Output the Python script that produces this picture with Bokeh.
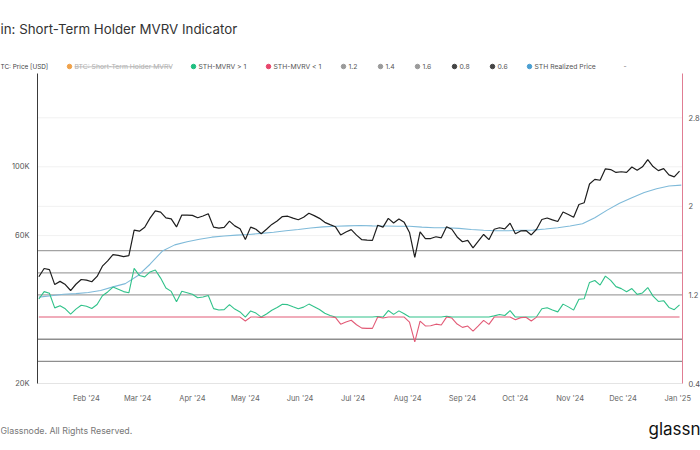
import pandas as pd
from bokeh.plotting import figure
from bokeh.models import (Range1d, LinearAxis, LinearScale, FixedTicker,
                          DatetimeTickFormatter)
from bokeh.core.properties import value
from bokeh.embed import file_html
from bokeh.resources import INLINE

# ---------------- data ----------------
price_start = "2024-01-05"   # every 3 days
btc_price = [
    44.2, 47.0, 46.6, 41.7, 42.7, 41.7, 39.9, 41.8, 43.3, 43.1,
    42.6, 44.3, 47.8, 49.7, 52.1, 51.8, 51.3, 51.7, 62.5, 62.0,
    63.8, 68.3, 72.1, 71.4, 68.4, 67.9, 64.0, 69.9, 69.9, 69.7,
    68.5, 69.4, 70.6, 63.9, 63.4, 63.8, 66.8, 64.5, 63.1, 58.3,
    63.9, 62.9, 60.8, 62.9, 65.2, 66.9, 69.1, 69.3, 68.3, 67.5,
    68.8, 70.8, 69.6, 68.2, 66.2, 65.1, 64.1, 60.3, 61.6, 62.7,
    60.2, 58.2, 58.0, 57.9, 64.8, 63.9, 68.2, 65.9, 67.9, 66.2,
    61.4, 51.0, 61.7, 58.7, 58.7, 59.5, 59.0, 64.1, 62.9, 59.4,
    57.3, 57.9, 54.8, 57.6, 60.5, 58.2, 62.9, 63.6, 63.1, 65.8,
    60.8, 62.1, 62.3, 60.3, 62.9, 67.6, 68.4, 67.4, 66.6, 71.5,
    70.2, 68.8, 75.6, 76.6, 88.0, 91.1, 90.5, 98.5, 98.0, 95.9,
    96.4, 96.0, 99.9, 97.4, 100.0, 105.5, 100.2, 97.2, 98.7, 94.2,
    92.8, 96.9,
]  # thousands of USD

sth_mvrv = [
    1.163, 1.230, 1.215, 1.083, 1.103, 1.075, 1.026, 1.072, 1.107, 1.098,
    1.078, 1.113, 1.192, 1.227, 1.271, 1.251, 1.230, 1.219, 1.440, 1.375,
    1.363, 1.408, 1.425, 1.352, 1.262, 1.232, 1.139, 1.233, 1.220, 1.206,
    1.175, 1.182, 1.195, 1.076, 1.064, 1.067, 1.113, 1.072, 1.046, 0.965,
    1.055, 1.036, 0.997, 1.028, 1.062, 1.086, 1.116, 1.112, 1.093, 1.075,
    1.090, 1.117, 1.094, 1.069, 1.034, 1.014, 0.997, 0.936, 0.955, 0.971,
    0.931, 0.900, 0.898, 0.898, 1.005, 0.992, 1.059, 1.024, 1.056, 1.030,
    0.955, 0.775, 0.964, 0.920, 0.922, 0.936, 0.928, 1.008, 0.991, 0.937,
    0.907, 0.919, 0.873, 0.920, 0.970, 0.934, 1.011, 1.023, 1.014, 1.058,
    0.976, 0.995, 0.998, 0.965, 1.003, 1.075, 1.084, 1.064, 1.047, 1.117,
    1.092, 1.063, 1.161, 1.166, 1.313, 1.330, 1.289, 1.370, 1.332, 1.275,
    1.257, 1.229, 1.258, 1.205, 1.218, 1.267, 1.189, 1.141, 1.148, 1.087,
    1.067, 1.111,
]

realized_start = "2024-01-05"   # weekly
sth_realized = [
    38.0, 38.4, 38.8, 39.0, 39.3, 39.9, 41.0, 42.0, 44.5, 48.5,
    53.5, 56.0, 57.3, 58.4, 59.3, 59.8, 60.2, 60.5, 61.0, 61.5,
    62.2, 62.8, 63.5, 64.0, 64.3, 64.5, 64.7, 64.5, 64.4, 64.3,
    64.3, 63.9, 63.6, 63.6, 63.3, 62.8, 62.4, 62.2, 62.2, 62.4,
    62.5, 63.0, 63.6, 64.4, 65.5, 68.5, 72.5, 76.3, 79.5, 82.6,
    85.0, 86.7, 87.3,
]  # thousands of USD

month_ticks = ["2024-02-01", "2024-03-01", "2024-04-01", "2024-05-01",
               "2024-06-01", "2024-07-01", "2024-08-01", "2024-09-01",
               "2024-10-01", "2024-11-01", "2024-12-01", "2025-01-01"]
left_ticks = [20000, 60000, 100000]
left_labels = ["20K", "60K", "100K"]
right_ticks = [0.4, 1.2, 2.0, 2.8]
right_labels = ["0.4", "1.2", "2", "2.8"]
left_grid = [60000, 100000]
right_grid = [2.0, 2.8]
levels_upper = [1.2, 1.4, 1.6]
levels_lower = [0.8, 0.6]

legend_labels = ["BTC: Short-Term Holder MVRV", "STH-MVRV > 1", "STH-MVRV < 1",
                 "1.2", "1.4", "1.6", "0.8", "0.6", "STH Realized Price"]
legend_colors = ["#f0a24a", "#1fbf80", "#e8456b", "#9a9a9a", "#9a9a9a", "#9a9a9a",
                 "#444444", "#444444", "#4a9fd2"]

# ---------------- derived tables ----------------
EPOCH = pd.Timestamp("1970-01-01")
def ms(ts):
    return (pd.Timestamp(ts) - EPOCH).total_seconds() * 1000.0

price_dates = pd.date_range(price_start, periods=len(btc_price), freq="3D")
realized_dates = pd.date_range(realized_start, periods=len(sth_realized), freq="7D")
price_usd = [v * 1000 for v in btc_price]
realized_usd = [v * 1000 for v in sth_realized]
mvrv_above = [max(v, 1.0) for v in sth_mvrv]
mvrv_below = [min(v, 1.0) for v in sth_mvrv]

# ---------------- layout geometry (canvas pixels) ----------------
W, H = 700, 450
PL, PR, PT, PB = 37, 682, 73, 383   # plot area
x_start = ms("2024-01-04 05:45")
x_end = ms("2025-01-03 16:20")
Y_LO, Y_HI = 20000.0, 200000.0
M_LO, M_HI = 0.4, 3.2

mpp = (x_end - x_start) / (PR - PL)
dec_pp = 1.0 / (PB - PT)          # decades per pixel (log axis)
kpp = (M_HI - M_LO) / (PB - PT)   # mvrv per pixel

x_range = Range1d(x_start - PL * mpp, x_end + (W - PR) * mpp)
y_range = Range1d(Y_LO * 10 ** (-(H - PB) * dec_pp), Y_HI * 10 ** (PT * dec_pp))
m_range = Range1d(M_LO - (H - PB) * kpp, M_HI + PT * kpp)

def xpx(px):
    return x_start + (px - PL) * mpp
def ypx(py):
    return M_LO + (PB - py) * kpp

FONT = "Inter"
AX_FS = "7.5px"

p = figure(width=W, height=H, x_axis_type="datetime", y_axis_type="log",
           x_range=x_range, y_range=y_range,
           output_backend="svg", toolbar_location=None, min_border=0,
           outline_line_color=None, background_fill_color="white",
           border_fill_color="white")
p.extra_y_ranges = {"mvrv": m_range}
p.extra_y_scales = {"mvrv": LinearScale()}
p.xgrid.visible = False
p.ygrid.visible = False

def style_axis(ax, standoff):
    ax.major_tick_line_color = None
    ax.minor_tick_line_color = None
    ax.major_tick_out = 0
    ax.major_tick_in = 0
    ax.minor_tick_out = 0
    ax.minor_tick_in = 0
    ax.major_label_standoff = standoff
    ax.major_label_text_font = FONT
    ax.major_label_text_font_size = AX_FS
    ax.major_label_text_color = "#555555"

ya = p.yaxis[0]
ya.ticker = FixedTicker(ticks=left_ticks, minor_ticks=[])
ya.major_label_overrides = {t: l for t, l in zip(left_ticks, left_labels)}
ya.axis_line_color = "#3a3a3a"
ya.fixed_location = x_start
ya.bounds = (Y_LO, Y_HI)
style_axis(ya, 8)

xa = p.xaxis[0]
xa.ticker = FixedTicker(ticks=[ms(t) for t in month_ticks], minor_ticks=[])
xa.formatter = DatetimeTickFormatter(days="%b '%y", months="%b '%y", years="%b '%y")
xa.axis_line_color = "#e4e4e4"
xa.fixed_location = Y_LO
xa.bounds = (x_start, x_end)
style_axis(xa, 10)
xa.major_label_text_color = "#666666"

ra = LinearAxis(y_range_name="mvrv", ticker=FixedTicker(ticks=right_ticks, minor_ticks=[]),
                axis_line_color="#e07d93", fixed_location=x_end, bounds=(M_LO, M_HI),
                major_label_overrides={t: l for t, l in zip(right_ticks, right_labels)})
style_axis(ra, 6)
p.add_layout(ra, "right")

# faint grid lines and threshold levels (bounded to the plot area)
n = len(left_grid)
p.segment(x0=[x_start] * n, x1=[x_end] * n, y0=left_grid, y1=left_grid,
          line_color="#f1f1f1", line_width=1)
n = len(right_grid)
p.segment(x0=[x_start] * n, x1=[x_end] * n, y0=right_grid, y1=right_grid,
          y_range_name="mvrv", line_color="#f1f1f1", line_width=1)
n = len(levels_upper)
p.segment(x0=[x_start] * n, x1=[x_end] * n, y0=levels_upper, y1=levels_upper,
          y_range_name="mvrv", line_color="#a3a3a3", line_width=1.2)
n = len(levels_lower)
p.segment(x0=[x_start] * n, x1=[x_end] * n, y0=levels_lower, y1=levels_lower,
          y_range_name="mvrv", line_color="#8e8e8e", line_width=1.4)

# series
p.line(realized_dates, realized_usd, line_color="#7fbad9", line_width=1.1)
p.line(price_dates, mvrv_above, y_range_name="mvrv", line_color="#31c28a", line_width=1.1)
p.line(price_dates, mvrv_below, y_range_name="mvrv", line_color="#e25a76", line_width=1.1)
p.line(price_dates, price_usd, line_color="#1e1e1e", line_width=1.2)

# ---------------- texts ----------------
def txt(s, px, py, size="6.8px", color="#555555", align="left"):
    p.text(x=[xpx(px)], y=[ypx(py)], y_range_name="mvrv", text=[s],
           text_font=value(FONT), text_font_size=value(size), text_color=color,
           text_align=align, text_baseline="middle")

txt("in: Short-Term Holder MVRV Indicator", 0, 28, size="13.3px", color="#333333")
txt("TC: Price [USD]", 0, 66, size="6.4px", color="#444444")
dot_px = [69, 193, 268, 343, 380, 417, 454, 492, 529]
for dx, s, c in zip(dot_px, legend_labels, legend_colors):
    p.scatter([xpx(dx)], [ypx(66)], y_range_name="mvrv", size=4.5, color=c,
              marker="circle")
    txt(s, dx + 5, 66, color="#b0b0b0" if s.startswith("BTC") else "#555555")
p.segment(x0=[xpx(74)], x1=[xpx(171)], y0=[ypx(66.3)], y1=[ypx(66.3)],
          y_range_name="mvrv", line_color="#b0b0b0", line_width=0.8)
txt("-", 623, 66, color="#777777")

txt("Glassnode. All Rights Reserved.", 0, 430, size="8.8px", color="#777777")
txt("glassn", 648, 428, size="17px", color="#111111")

open("out.html", "w").write(file_html(p, INLINE))
